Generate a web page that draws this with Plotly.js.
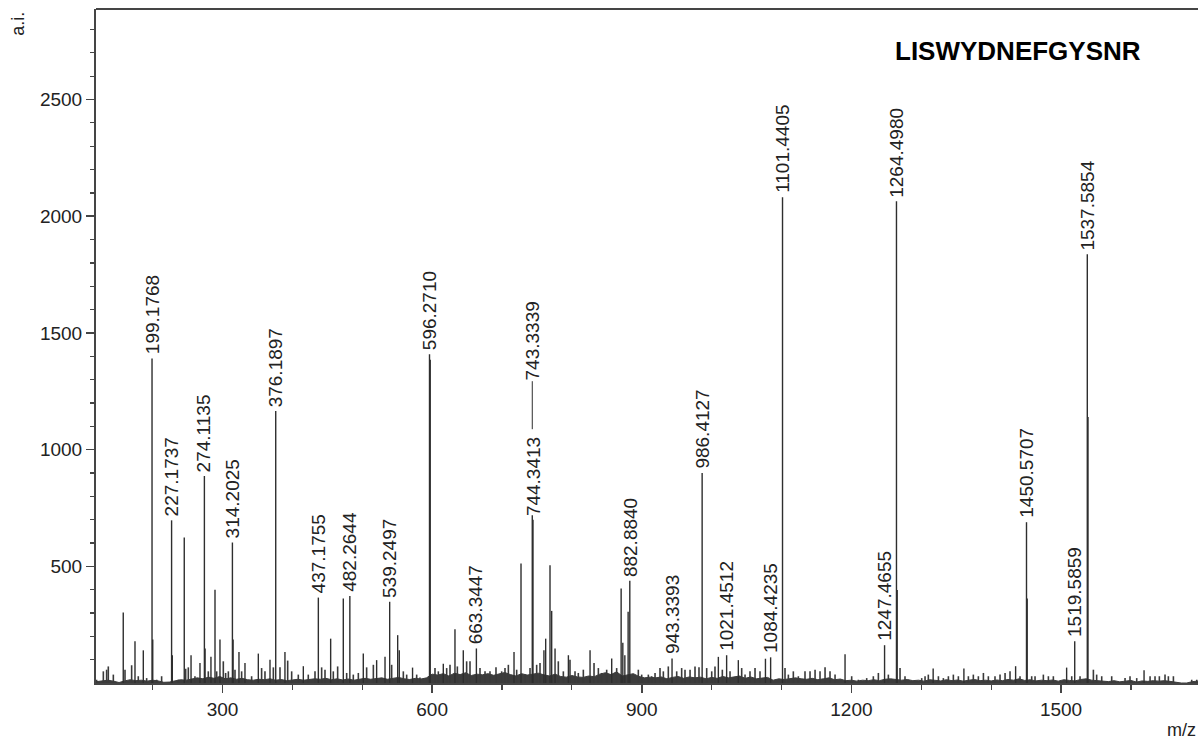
<!DOCTYPE html>
<html>
<head>
<meta charset="utf-8">
<script src="https://cdn.plot.ly/plotly-3.0.1.min.js"></script>
<style>html,body{margin:0;padding:0;background:#fff;}#chart{width:1198px;height:740px;}</style>
</head>
<body>
<div id="chart"></div>
<script>
// Labelled peaks (m/z text as printed, intensity a.i.)
const labelText = ["199.1768","227.1737","274.1135","314.2025","376.1897","437.1755","482.2644","539.2497","596.2710","663.3447","743.3339","744.3413","882.8840","943.3393","986.4127","1021.4512","1084.4235","1101.4405","1247.4655","1264.4980","1450.5707","1519.5859","1537.5854"];
const labelInt  = [1390,697,887,602,1165,366,373,348,1409,148,719,700,438,105,900,119,110,2081,162,2064,689,179,1837];

// Other unlabelled peaks
const otherMz  = [158,174.8,186.7,200.2,228.2,245.3,255,267.8,275.1,283.5,289.3,296.4,315.2,323.6,332.2,351.3,368,389.4,415.7,454.8,472.9,501.5,520.6,532.6,550.7,553,572,597.27,616,632.7,644.6,717.2,727.2,760,762.5,768.7,771.1,775.9,795,826,857,870.5,872.9,875.8,880.5,1009.6,1038.2,1077,1190.9,1265.5,1317,1361,1435,1451.57,1508,1538.59,1618.8];
const otherInt = [302,179,140,186,119,623,119,86,148,112,400,186,186,133,86,126,100,133,72,190,362,126,98,112,205,140,66,1385,83,230,140,133,512,140,190,505,309,148,119,140,105,405,172,119,305,112,98,104,123,398,62,62,72,362,66,1140,55];

// Small noise sticks
const noiseMz  = [119.9,129.5,134.2,136.6,143.8,160.5,170,179.5,191.5,205.8,212.9,236.8,247.3,251.1,260.6,279.7,291.7,301.2,304.5,308.4,317.9,327.4,341.7,356,360.8,372.8,382.3,393.3,399,408.5,422.8,432.4,441.9,446.7,458.6,464.8,477.7,487.2,494.4,506.3,
515.9,542.1,558.8,563.6,577.9,582.6,604.1,608.9,620.8,625.6,636.1,649.4,654.2,668.5,675.7,682.8,691.4,699.5,704.3,709.1,721,732.9,740.1,749.6,754.4,780.6,787.8,797.3,804.5,809.2,816.4,831.7,837.9,842.6,849.8,864.1,895.1,899.9,
909.4,914.2,919,926.1,930.9,938,950,957.1,961.9,969.1,976.2,981.9,992.9,1000.1,1004.8,1015.3,1026.3,1043,1047.8,1054.9,1062.1,1069.2,1105,1109.8,1116.9,1124.1,1133.6,1140.8,1148,1155.1,1162.3,1169.4,1176.6,1200.4,1210,1221.9,1231.4,1238.6,1252.9,1269.6,1276.7,
1300.6,1305.4,1310.1,1324.5,1331.6,1338.8,1345.9,1353.1,1367.4,1374.5,1381.7,1388.9,1396,1405.5,1412.7,1419.9,1427,1441.3,1458,1462.8,1474.7,1481.9,1489,1515.3,1527.2,1546.3,1551,1558.2,1572.5,1591.6,1598.7,1608.3,1627.4,1634.5,1640.7,1648.8,1653.6,1660.8,1687,1694.2];
const noiseInt = [14,50,57,71,36,57,76,29,21,14,29,14,61,67,29,50,50,93,43,50,57,50,29,64,50,67,67,96,50,36,36,50,67,57,50,71,43,36,43,67,
78,78,50,36,36,24,64,50,64,78,71,93,93,64,50,50,67,50,64,78,57,36,64,78,86,93,50,100,50,43,57,86,64,43,57,64,57,36,
36,29,43,64,50,71,50,64,57,57,71,67,64,50,71,57,50,64,36,50,64,50,64,36,50,29,50,50,57,50,67,50,36,29,14,21,29,43,36,64,29,
21,29,36,29,21,29,36,29,29,36,29,43,29,29,36,43,50,29,29,29,36,29,29,29,29,57,36,29,29,21,29,21,29,29,29,36,29,29,14,14];

// Baseline (dense grass) level
const baseMz = [120,128,136,144,152,160,168,176,184,192,
200,208,216,224,232,240,248,256,264,272,
280,288,296,304,312,320,328,336,344,352,
360,368,376,384,392,400,408,416,424,432,
440,448,456,464,472,480,488,496,504,512,
520,528,536,544,552,560,568,576,584,592,
600,608,616,624,632,640,648,656,664,672,
680,688,696,704,712,720,728,736,744,752,
760,768,776,784,792,800,808,816,824,832,
840,848,856,864,872,880,888,896,904,912,
920,928,936,944,952,960,968,976,984,992,
1000,1008,1016,1024,1032,1040,1048,1056,1064,1072,
1080,1088,1096,1104,1112,1120,1128,1136,1144,1152,
1160,1168,1176,1184,1192,1200,1208,1216,1224,1232,
1240,1248,1256,1264,1272,1280,1288,1296,1304,1312,
1320,1328,1336,1344,1352,1360,1368,1376,1384,1392,
1400,1408,1416,1424,1432,1440,1448,1456,1464,1472,
1480,1488,1496,1504,1512,1520,1528,1536,1544,1552,
1560,1568,1576,1584,1592,1600,1608,1616,1624,1632,
1640,1648,1656,1664,1672,1680,1688,1696];
const baseInt = [6,10,12,8,2,9,14,10,12,8,
12,9,3,4,10,14,12,16,22,18,
25,20,28,18,22,16,20,14,12,16,
14,18,12,15,10,13,16,12,14,18,
16,20,14,18,13,17,12,15,20,16,
18,22,16,20,24,18,15,20,17,22,
38,34,40,30,42,36,44,32,38,35,
40,33,38,45,36,30,40,34,38,42,
35,30,38,28,25,32,26,24,30,27,
38,44,36,48,30,34,40,28,22,25,
22,26,18,24,28,20,26,22,25,18,
24,20,28,22,25,30,20,26,18,22,
24,12,18,15,20,22,18,16,20,14,
18,22,14,17,10,12,8,12,10,14,
10,16,18,14,12,15,10,12,8,14,
12,9,14,10,13,8,12,15,10,12,
9,13,10,15,12,18,11,14,9,12,
10,13,8,14,11,9,15,18,12,10,
9,6,10,5,8,11,4,9,7,10,
8,10,7,3,0,0,6,8];

const yTickVals = [500,1000,1500,2000,2500];
const xTickVals = [300,600,900,1200,1500];
const peptide = "LISWYDNEFGYSNR";

const labelMz = labelText.map(Number);
function sticks(mz, inten){
  const xs=[], ys=[];
  for(let i=0;i<mz.length;i++){ xs.push(mz[i],mz[i],null); ys.push(0,inten[i],null); }
  return {xs, ys};
}
const noiseSt = sticks(noiseMz, noiseInt);
const peakSt = sticks(otherMz.concat(labelMz), otherInt.concat(labelInt));

const FONT = "Liberation Sans, Arial, Helvetica, sans-serif";
const INK = '#2e2e2e';
const AX = '#454545';

const traces = [
  {x: baseMz, y: baseInt, type:'scatter', mode:'lines', fill:'tozeroy',
   line:{color:'#3c3c3c', width:1}, fillcolor:'#3c3c3c', hoverinfo:'skip'},
  {x: noiseSt.xs, y: noiseSt.ys, type:'scatter', mode:'lines', line:{color:'#3a3a3a', width:1.6}, connectgaps:false, hoverinfo:'skip'},
  {x: peakSt.xs, y: peakSt.ys, type:'scatter', mode:'lines', line:{color:INK, width:1.4}, connectgaps:false, hoverinfo:'skip'}
];

const annotations = [];
labelText.forEach((t,i)=>{
  if(t === "743.3339"){
    annotations.push({x:labelMz[i], y:labelInt[i], xref:'x', yref:'y', text:t, textangle:-90,
      showarrow:true, arrowhead:0, arrowwidth:1, arrowcolor:INK, ax:0, ay:-174, standoff:86,
      font:{family:FONT, size:19, color:'#222'}, borderpad:0});
  } else {
    annotations.push({x:labelMz[i], y:labelInt[i], xref:'x', yref:'y', text:t, textangle:-90,
      showarrow:false, xanchor:'center', yanchor:'bottom', yshift:3,
      font:{family:FONT, size:19, color:'#222'}, borderpad:0});
  }
});
annotations.push({xref:'paper', yref:'paper', x:0.8367, y:0.937, text:'<b>'+peptide+'</b>', showarrow:false,
  xanchor:'center', yanchor:'middle', font:{family:FONT, size:26, color:'#000'}});
annotations.push({xref:'paper', yref:'paper', x:-0.0708, y:0.978, text:'a.i.', textangle:-90, showarrow:false,
  xanchor:'center', yanchor:'middle', font:{family:FONT, size:18, color:'#222'}});
annotations.push({xref:'paper', yref:'paper', x:0.9846, y:-0.070, text:'m/z', showarrow:false,
  xanchor:'center', yanchor:'middle', font:{family:FONT, size:18, color:'#222'}});

const minorY = []; for(let v=100; v<=2800; v+=100) minorY.push(v);

const layout = {
  width:1198, height:740,
  margin:{l:96, r:0, t:9, b:57},
  paper_bgcolor:'#fff', plot_bgcolor:'#fff',
  showlegend:false,
  font:{family:FONT, color:'#222'},
  xaxis:{range:[119,1696], showgrid:false, zeroline:false, showline:true, linecolor:AX, linewidth:2,
    tickmode:'array', tickvals:xTickVals, ticks:'outside', ticklen:8, tickwidth:1.5, tickcolor:AX,
    tickfont:{family:FONT, size:19, color:'#222'},
    minor:{dtick:100, tick0:0, ticks:'outside', ticklen:5, tickwidth:1.2, tickcolor:AX, showgrid:false}},
  yaxis:{range:[0,2888], showgrid:false, zeroline:false, showline:true, linecolor:AX, linewidth:2,
    tickmode:'array', tickvals:yTickVals, ticks:'outside', ticklen:8, tickwidth:1.5, tickcolor:AX,
    tickfont:{family:FONT, size:19, color:'#222'},
    minor:{tickmode:'array', tickvals:minorY, ticks:'outside', ticklen:4, tickwidth:1.2, tickcolor:AX, showgrid:false}},
  shapes:[{type:'line', xref:'paper', yref:'paper', x0:0, x1:1, y0:1, y1:1, line:{color:AX, width:2}}],
  annotations: annotations
};

Plotly.newPlot('chart', traces, layout, {staticPlot:true, displayModeBar:false});
</script>
</body>
</html>
